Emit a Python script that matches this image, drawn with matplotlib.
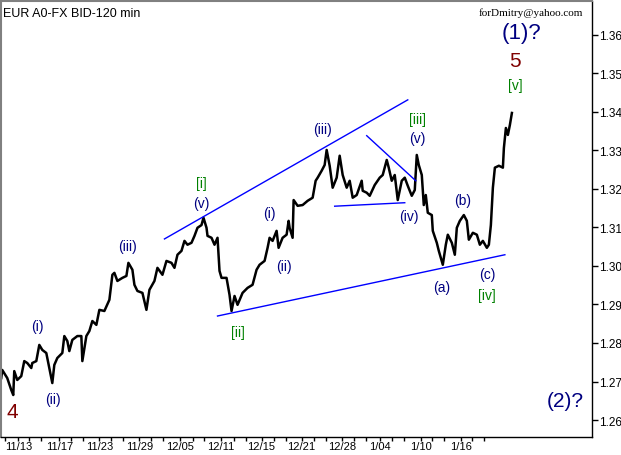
import matplotlib.pyplot as plt
from matplotlib.ticker import FixedLocator

plt.rcParams["font.family"] = ["Liberation Sans", "DejaVu Sans"]

# price path (120-min bars), bar index vs price
bars = [2, 3, 8, 12, 14, 15, 18, 22, 25, 28, 32, 33, 37, 40, 43, 47, 50, 53, 55, 58,
        63, 65, 68, 70, 73, 78, 82, 83, 87, 90, 93, 97, 100, 105, 110, 113, 115, 118, 123, 127,
        129, 133, 135, 138, 143, 147, 150, 155, 158, 163, 167, 172, 175, 178, 182, 185, 188, 192, 195, 198,
        202, 204, 207, 208, 212, 215, 218, 220, 222, 227, 230, 232, 235, 238, 243, 248, 253, 257, 260, 265,
        268, 270, 273, 277, 279, 283, 287, 289, 290, 293, 294, 298, 303, 308, 313, 316, 318, 322, 325, 327,
        330, 333, 337, 340, 343, 347, 350, 353, 357, 362, 363, 367, 370, 375, 380, 383, 387, 389, 392, 395,
        398, 402, 405, 408, 412, 415, 417, 419, 422, 424, 426, 428, 432, 433, 437, 439, 443, 446, 448, 452,
        455, 457, 460, 464, 467, 469, 473, 477, 480, 483, 487, 489, 491, 493, 495, 499, 503, 504, 506, 508,
        510, 512]
prices = [1.2709, 1.2730, 1.2709, 1.2678, 1.2665, 1.2727, 1.2704, 1.2714, 1.2753, 1.2748,
          1.2735, 1.2748, 1.2753, 1.2795, 1.2782, 1.2774, 1.2735, 1.2696, 1.2743, 1.2761,
          1.2774, 1.2818, 1.2805, 1.2779, 1.2808, 1.2818, 1.2818, 1.2753, 1.2818, 1.2831,
          1.2857, 1.2847, 1.2886, 1.2883, 1.2912, 1.2977, 1.2982, 1.2961, 1.2969, 1.2974,
          1.3008, 1.2990, 1.2951, 1.2935, 1.2930, 1.2886, 1.2938, 1.2961, 1.2995, 1.2977,
          1.3013, 1.3008, 1.2995, 1.3029, 1.3039, 1.3065, 1.3055, 1.3060, 1.3078, 1.3099,
          1.3106, 1.3125, 1.3099, 1.3078, 1.3073, 1.3055, 1.3073, 1.2987, 1.2969, 1.2969,
          1.2925, 1.2883, 1.2922, 1.2899, 1.2930, 1.2943, 1.2951, 1.2990, 1.3003, 1.3013,
          1.3047, 1.3073, 1.3065, 1.3091, 1.3047, 1.3073, 1.3081, 1.3117, 1.3099, 1.3073,
          1.3171, 1.3156, 1.3158, 1.3169, 1.3177, 1.3221, 1.3229, 1.3247, 1.3262, 1.3301,
          1.3260, 1.3203, 1.3229, 1.3286, 1.3236, 1.3203, 1.3221, 1.3177, 1.3184, 1.3221,
          1.3195, 1.3190, 1.3182, 1.3210, 1.3229, 1.3236, 1.3275, 1.3255, 1.3221, 1.3236,
          1.3171, 1.3221, 1.3229, 1.3208, 1.3182, 1.3197, 1.3288, 1.3262, 1.3236, 1.3158,
          1.3184, 1.3138, 1.3132, 1.3091, 1.3060, 1.3039, 1.3003, 1.3055, 1.3081, 1.3060,
          1.3029, 1.3099, 1.3117, 1.3132, 1.3117, 1.3068, 1.3086, 1.3081, 1.3055, 1.3065,
          1.3047, 1.3055, 1.3106, 1.3203, 1.3255, 1.3260, 1.3255, 1.3306, 1.3358, 1.3340,
          1.3366, 1.3397]

date_pos = [19, 60, 100, 140, 181, 221, 262, 302, 342, 380, 421, 461]
date_labels = ["11/13", "11/17", "11/23", "11/29", "12/05", "12/11", "12/15",
               "12/21", "12/28", "1/04", "1/10", "1/16"]
price_ticks = [1.26, 1.27, 1.28, 1.29, 1.30, 1.31, 1.32, 1.33, 1.34, 1.35, 1.36]

# trend lines: (bar0, price0, bar1, price1)
trend_lines = [
    (165, 1.3070, 408, 1.3431),
    (218, 1.2870, 505, 1.3029),
    (335, 1.3155, 405, 1.3164),
    (367, 1.3338, 416, 1.3221),
]

# wave labels: (text, bar, price, colour, size)
NAVY, GREEN, MAROON = "#000080", "#008000", "#800000"
wave_labels = [
    ("(1)?", 522, 1.3605, NAVY, 16),
    ("5", 515, 1.3532, MAROON, 15),
    ("[v]", 515, 1.3470, GREEN, 10),
    ("4", 13, 1.2621, MAROON, 15),
    ("(2)?", 565, 1.2652, NAVY, 15),
    ("(i)", 38, 1.2844, NAVY, 10),
    ("(ii)", 54, 1.2655, NAVY, 10),
    ("(iii)", 128, 1.3052, NAVY, 10),
    ("[i]", 202, 1.3216, GREEN, 10),
    ("(v)", 202, 1.3164, NAVY, 10),
    ("[ii]", 238, 1.2829, GREEN, 10),
    ("(i)", 270, 1.3138, NAVY, 10),
    ("(ii)", 284, 1.3000, NAVY, 10),
    ("(iii)", 323, 1.3356, NAVY, 10),
    ("[iii]", 418, 1.3382, GREEN, 10),
    ("(v)", 418, 1.3332, NAVY, 10),
    ("(iv)", 409, 1.3130, NAVY, 10),
    ("(b)", 463, 1.3171, NAVY, 10),
    ("(a)", 442, 1.2945, NAVY, 10),
    ("(c)", 487, 1.2979, NAVY, 10),
    ("[iv]", 487, 1.2925, GREEN, 10),
]

fig = plt.figure(figsize=(6.21, 4.56), dpi=100)
ax = fig.add_axes([0.002, 1 - 438 / 456, 592 / 621 - 0.002, 438 / 456 - 0.004])

ax.plot(bars, prices, color="black", lw=1.8)
for x0, y0, x1, y1 in trend_lines:
    ax.plot([x0, x1], [y0, y1], color="#0000ff", lw=1.0)
for txt, x, y, c, s in wave_labels:
    ax.text(x, y, txt, color=c, fontsize=s, ha="center", va="center")

ax.set_xlim(2, 592)
ax.set_ylim(1.2556, 1.3688)

ax.yaxis.tick_right()
ax.set_yticks(price_ticks)
ax.set_yticklabels([f"{v:.2f}" for v in price_ticks])
ax.set_xticks(date_pos)
ax.set_xticklabels(date_labels)
ax.xaxis.set_minor_locator(FixedLocator([6, 30, 42, 72, 84, 112, 124, 152, 164, 194, 204,
                                         234, 246, 274, 286, 314, 326, 354, 366, 392,
                                         404, 432, 444, 472, 484]))
ax.tick_params(axis="y", which="major", labelsize=8.5, length=4, width=1,
               direction="out", pad=1)
ax.tick_params(axis="x", which="major", labelsize=8, length=3, width=1,
               direction="out", pad=0)
ax.tick_params(axis="x", which="minor", length=3, width=1)

for s in ["top", "left"]:
    ax.spines[s].set_color("#808080")
    ax.spines[s].set_linewidth(1.5)
for s in ["right", "bottom"]:
    ax.spines[s].set_color("black")
    ax.spines[s].set_linewidth(1.0)

ax.text(0.003, 0.985, "EUR A0-FX BID-120 min", transform=ax.transAxes,
        fontsize=9, ha="left", va="top")
ax.text(0.985, 0.985, "forDmitry@yahoo.com", transform=ax.transAxes,
        fontsize=8, ha="right", va="top", family="Liberation Serif")

fig.savefig("out.png", dpi=100)
